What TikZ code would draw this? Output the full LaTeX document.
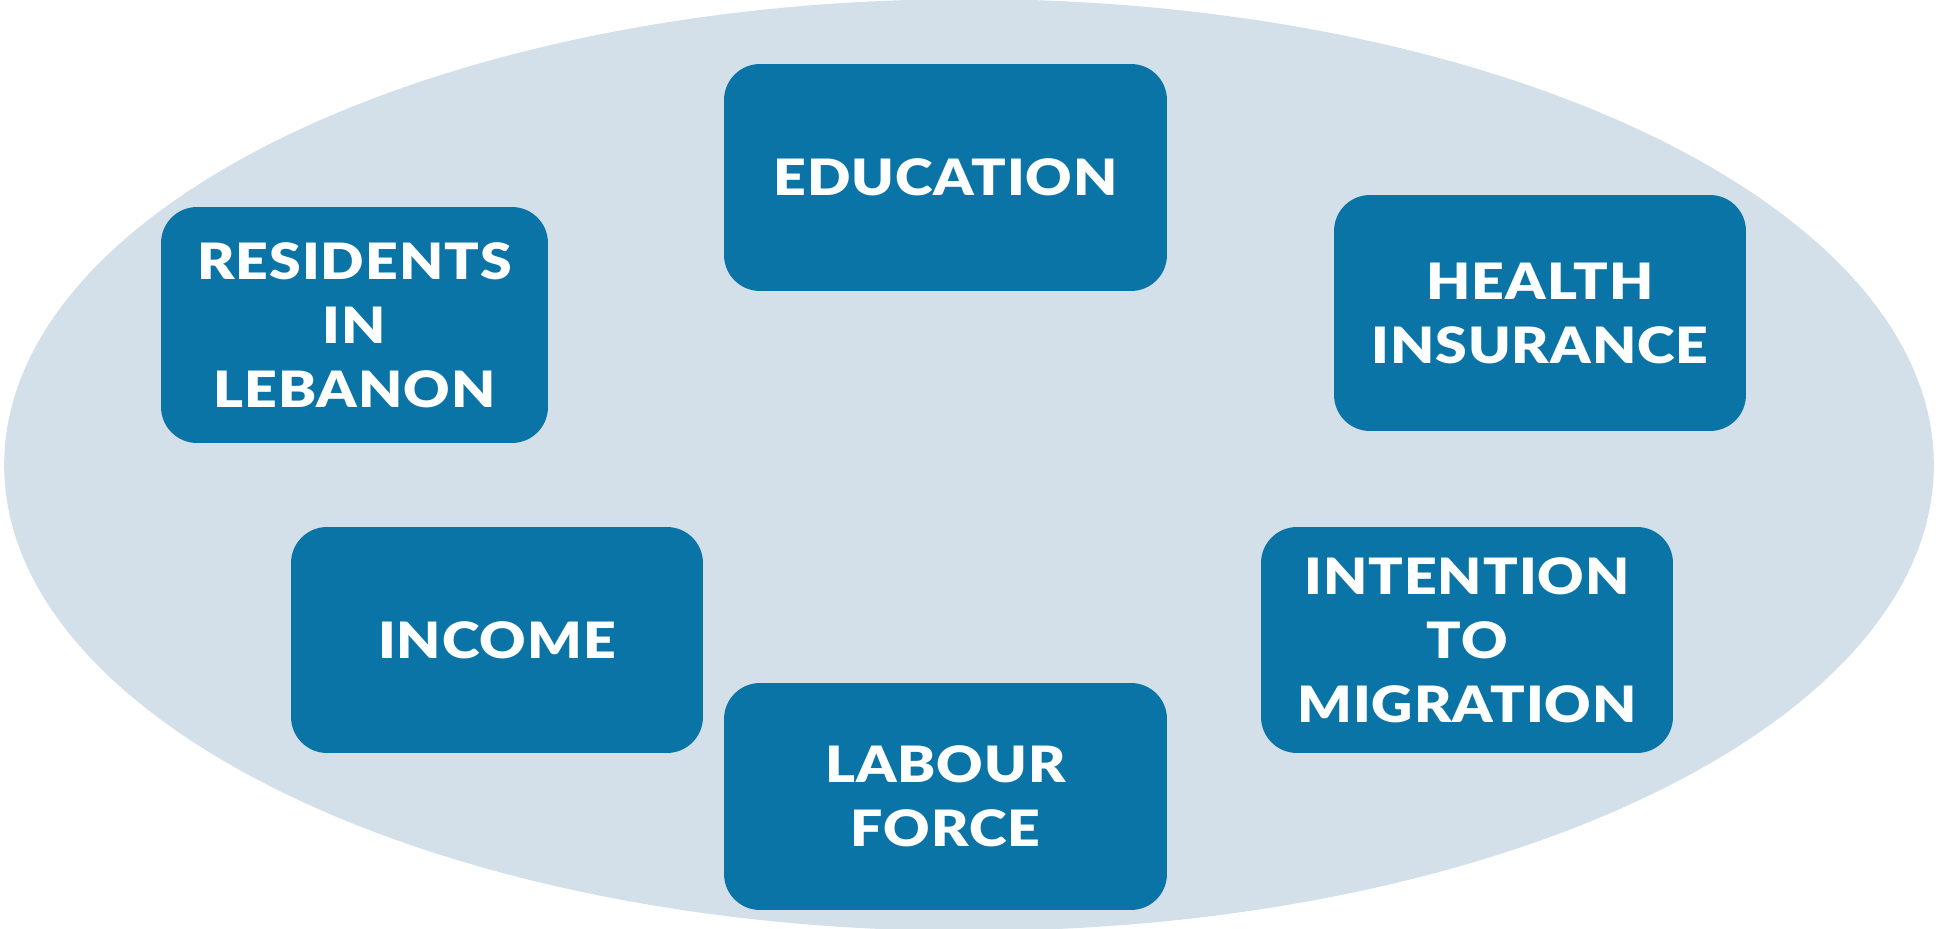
\documentclass[tikz,border=0pt]{standalone}
\usepackage{fontspec}
\usepackage{xcolor}
\newfontfamily\topicfont{Lato}[UprightFont={* Black},LetterSpace=2.0,FakeStretch=1.14]
\definecolor{ovalfill}{RGB}{211,223,233}
\definecolor{topicblue}{RGB}{10,116,166}

\begin{document}
\begin{tikzpicture}[x=0.02cm,y=-0.02cm,
    topic/.style={fill=topicblue,text=white,rounded corners=0.72cm,align=center,inner sep=0pt,
        font=\topicfont\fontsize{28.5}{36.4}\selectfont},
    wide/.style={minimum width=8.86cm,minimum height=4.54cm},
    narrow/.style={minimum width=8.24cm,minimum height=4.52cm}]
    \useasboundingbox (0,0) rectangle (1938,929);
    \clip (0,0) rectangle (1938,929);

    % background oval
    \fill[ovalfill] (969,465) ellipse [x radius=19.3cm, y radius=9.32cm];

    \node[topic,wide] (education) at (945.5,177.5) {EDUCATION};
    \node[topic,minimum width=8.24cm,minimum height=4.72cm] (health) at (1540,313) {HEALTH\\INSURANCE};
    \node[topic,minimum width=7.74cm,minimum height=4.72cm] (residents) at (354.5,325) {RESIDENTS\\IN\\LEBANON};
    \node[topic,narrow] (income) at (497,640) {INCOME};
    \node[topic,narrow] (intention) at (1467,640) {INTENTION\\TO\\MIGRATION};
    \node[topic,wide] (labour) at (945.5,796.5) {LABOUR\\FORCE};
\end{tikzpicture}
\end{document}
